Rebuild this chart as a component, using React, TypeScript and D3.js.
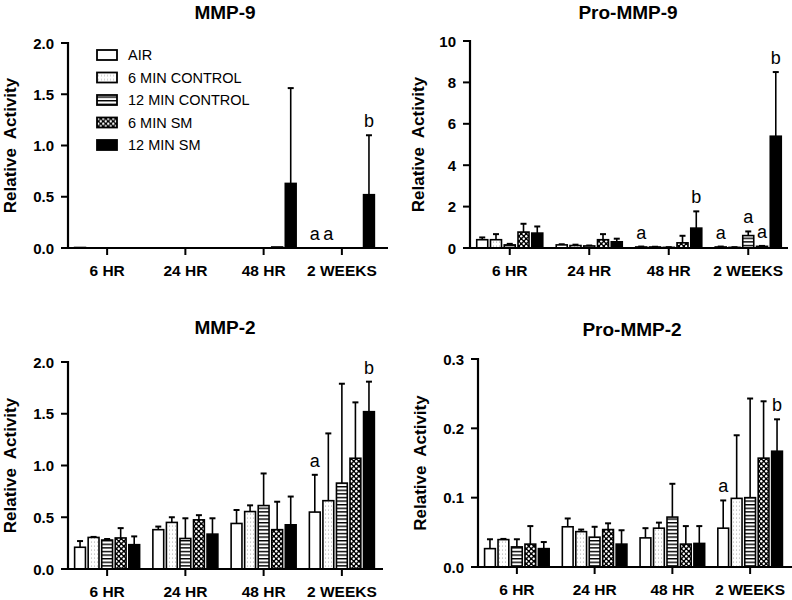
import React from "react";
import * as d3 from "d3";

const groups = ["6 HR", "24 HR", "48 HR", "2 WEEKS"];
const seriesNames = ["AIR", "6 MIN CONTROL", "12 MIN CONTROL", "6 MIN SM", "12 MIN SM"];

// MMP-9 (means per series, across groups) and SD
const mmp9Mean = [
  [0.005, 0, 0, 0],
  [0, 0, 0, 0],
  [0, 0, 0, 0],
  [0, 0, 0.01, 0],
  [0, 0, 0.63, 0.52],
];
const mmp9Err = [
  [0, 0, 0, 0],
  [0, 0, 0, 0],
  [0, 0, 0, 0],
  [0, 0, 0, 0],
  [0, 0, 0.93, 0.58],
];
const mmp9Ticks = [0, 0.5, 1.0, 1.5, 2.0];
const mmp9Letters = [
  { g: 3, s: 0, t: "a" },
  { g: 3, s: 1, t: "a" },
  { g: 3, s: 4, t: "b" },
];

// Pro-MMP-9
const proMmp9Mean = [
  [0.4, 0.15, 0.05, 0.05],
  [0.4, 0.12, 0.05, 0.03],
  [0.15, 0.1, 0.03, 0.6],
  [0.77, 0.4, 0.25, 0.08],
  [0.72, 0.3, 0.96, 5.4],
];
const proMmp9Err = [
  [0.11, 0.03, 0.02, 0.02],
  [0.27, 0.04, 0.01, 0.01],
  [0.05, 0.02, 0.01, 0.2],
  [0.4, 0.27, 0.34, 0.02],
  [0.32, 0.15, 0.81, 3.1],
];
const proMmp9Ticks = [0, 2, 4, 6, 8, 10];
const proMmp9Letters = [
  { g: 2, s: 0, t: "a" },
  { g: 2, s: 4, t: "b" },
  { g: 3, s: 0, t: "a" },
  { g: 3, s: 2, t: "a" },
  { g: 3, s: 3, t: "a" },
  { g: 3, s: 4, t: "b" },
];

// MMP-2
const mmp2Mean = [
  [0.21, 0.38, 0.44, 0.55],
  [0.305, 0.45, 0.555, 0.66],
  [0.28, 0.295, 0.613, 0.83],
  [0.3, 0.475, 0.38, 1.07],
  [0.235, 0.337, 0.427, 1.52],
];
const mmp2Err = [
  [0.06, 0.03, 0.13, 0.36],
  [0.005, 0.05, 0.06, 0.65],
  [0.01, 0.195, 0.31, 0.96],
  [0.095, 0.045, 0.27, 0.54],
  [0.08, 0.153, 0.273, 0.29],
];
const mmp2Ticks = [0, 0.5, 1.0, 1.5, 2.0];
const mmp2Letters = [
  { g: 3, s: 0, t: "a" },
  { g: 3, s: 4, t: "b" },
];

// Pro-MMP-2
const proMmp2Mean = [
  [0.0265, 0.058, 0.042, 0.056],
  [0.0395, 0.051, 0.056, 0.099],
  [0.029, 0.043, 0.072, 0.1],
  [0.033, 0.054, 0.033, 0.157],
  [0.0265, 0.033, 0.034, 0.167],
];
const proMmp2Err = [
  [0.0135, 0.012, 0.014, 0.04],
  [0.001, 0.003, 0.008, 0.091],
  [0.011, 0.015, 0.048, 0.143],
  [0.026, 0.009, 0.026, 0.082],
  [0.0095, 0.02, 0.025, 0.046],
];
const proMmp2Ticks = [0, 0.1, 0.2, 0.3];
const proMmp2Letters = [
  { g: 3, s: 0, t: "a" },
  { g: 3, s: 4, t: "b" },
];

const FONT = "'Liberation Sans', Arial, Helvetica, sans-serif";
const fills = ["#ffffff", "url(#p6mc)", "url(#p12mc)", "url(#p6sm)", "#000000"];

type PanelProps = {
  title: string;
  mean: number[][];
  err: number[][];
  ticks: number[];
  fmt: string;
  letters: { g: number; s: number; t: string }[];
  x0: number;
  x1: number;
  axisEnd: number;
  yTop: number;
  yBot: number;
  titleX: number;
  titleY: number;
  labelX: number;
  legend?: boolean;
};

function Panel(p: PanelProps) {
  const yMax = p.ticks[p.ticks.length - 1];
  const y = d3.scaleLinear().domain([0, yMax]).range([p.yBot, p.yTop]);
  const xg = d3.scaleBand<string>().domain(groups).range([p.x0, p.x1]).paddingInner(0.1).paddingOuter(0.05);
  const xs = d3.scaleBand<string>().domain(seriesNames).range([0, xg.bandwidth()]).padding(0.2);
  const f = d3.format(p.fmt);
  const barX = (gi: number, si: number) => (xg(groups[gi]) as number) + (xs(seriesNames[si]) as number);
  const bw = xs.bandwidth();
  const capW = 6;
  return (
    <g>
      <text x={p.titleX} y={p.titleY} textAnchor="middle" fontFamily={FONT} fontWeight="bold" fontSize={19}>
        {p.title}
      </text>
      <text
        transform={`translate(${p.labelX},${(p.yTop + p.yBot) / 2}) rotate(-90)`}
        textAnchor="middle"
        dominantBaseline="central"
        fontFamily={FONT}
        fontWeight="bold"
        fontSize={17}
        style={{ whiteSpace: "pre" }}
      >
        {"Relative  Activity"}
      </text>
      {/* bars */}
      {p.mean.map((row, si) =>
        row.map((v, gi) => {
          const bx = barX(gi, si);
          const top = y(v);
          const e = p.err[si][gi];
          const et = y(v + e);
          return (
            <g key={`${si}-${gi}`}>
              {e > 0 && (
                <g>
                  <line x1={bx + bw / 2} x2={bx + bw / 2} y1={top} y2={et} stroke="#000" strokeWidth={1.6} />
                  <line x1={bx + bw / 2 - capW / 2} x2={bx + bw / 2 + capW / 2} y1={et} y2={et} stroke="#000" strokeWidth={2} />
                </g>
              )}
              {v > 0 && (
                <rect
                  x={bx}
                  y={top}
                  width={bw}
                  height={p.yBot - top}
                  fill={fills[si]}
                  stroke="#000"
                  strokeWidth={1.6}
                />
              )}
            </g>
          );
        })
      )}
      {/* letters */}
      {p.letters.map((l, i) => {
        const v = p.mean[l.s][l.g] + p.err[l.s][l.g];
        return (
          <text
            key={i}
            x={barX(l.g, l.s) + bw / 2}
            y={y(v) - 8}
            textAnchor="middle"
            fontFamily={FONT}
            fontSize={18}
            fill="#000"
          >
            {l.t}
          </text>
        );
      })}
      {/* axes */}
      <line x1={p.x0} x2={p.x0} y1={p.yTop - 1} y2={p.yBot + 1} stroke="#000" strokeWidth={2.2} />
      <line x1={p.x0} x2={p.axisEnd} y1={p.yBot} y2={p.yBot} stroke="#000" strokeWidth={2.2} />
      {p.ticks.map((t) => (
        <g key={t}>
          <line x1={p.x0 - 7} x2={p.x0} y1={y(t)} y2={y(t)} stroke="#000" strokeWidth={2} />
          <text
            x={p.x0 - 14}
            y={y(t)}
            textAnchor="end"
            dominantBaseline="central"
            fontFamily={FONT}
            fontWeight="bold"
            fontSize={15}
          >
            {f(t)}
          </text>
        </g>
      ))}
      {groups.map((g) => {
        const cx = (xg(g) as number) + xg.bandwidth() / 2;
        return (
          <g key={g}>
            <line x1={cx} x2={cx} y1={p.yBot} y2={p.yBot + 7} stroke="#000" strokeWidth={2} />
            <text x={cx} y={p.yBot + 28} textAnchor="middle" fontFamily={FONT} fontWeight="bold" fontSize={15.5}>
              {g}
            </text>
          </g>
        );
      })}
      {p.legend &&
        seriesNames.map((s, i) => (
          <g key={s} transform={`translate(97,${55 + i * 22.5})`}>
            <rect x={0} y={-5} width={20} height={10} fill={fills[i]} stroke="#000" strokeWidth={1.8} />
            <text x={31} y={0} dominantBaseline="central" fontFamily={FONT} fontSize={14.5}>
              {s}
            </text>
          </g>
        ))}
    </g>
  );
}

export default function App() {
  return (
    <svg
      width={792}
      height={600}
      viewBox="0 0 792 600"
      style={{ position: "absolute", left: 0, top: 0, background: "#fff" }}
    >
      <defs>
        <pattern id="p6mc" patternUnits="userSpaceOnUse" width={3} height={4}>
          <rect width={3} height={4} fill="#fff" />
          <circle cx={1.5} cy={2} r={0.55} fill="#999" />
        </pattern>
        <pattern id="p12mc" patternUnits="userSpaceOnUse" width={4} height={3.6}>
          <rect width={4} height={3.6} fill="#fff" />
          <rect x={0} y={0} width={4} height={1.4} fill="#000" />
        </pattern>
        <pattern id="p6sm" patternUnits="userSpaceOnUse" width={5} height={5}>
          <rect width={5} height={5} fill="#000" />
          <circle cx={1.25} cy={1.25} r={1.2} fill="#fff" />
          <circle cx={3.75} cy={3.75} r={1.2} fill="#fff" />
        </pattern>
      </defs>
      <rect width={792} height={600} fill="#fff" />
      <Panel
        title="MMP-9"
        mean={mmp9Mean}
        err={mmp9Err}
        ticks={mmp9Ticks}
        fmt=".1f"
        letters={mmp9Letters}
        x0={68}
        x1={381}
        axisEnd={388}
        yTop={43}
        yBot={248}
        titleX={225}
        titleY={19}
        labelX={10}
        legend
      />
      <Panel
        title="Pro-MMP-9"
        mean={proMmp9Mean}
        err={proMmp9Err}
        ticks={proMmp9Ticks}
        fmt="d"
        letters={proMmp9Letters}
        x0={470}
        x1={788}
        axisEnd={788}
        yTop={41}
        yBot={248}
        titleX={628}
        titleY={19}
        labelX={418}
      />
      <Panel
        title="MMP-2"
        mean={mmp2Mean}
        err={mmp2Err}
        ticks={mmp2Ticks}
        fmt=".1f"
        letters={mmp2Letters}
        x0={68}
        x1={381}
        axisEnd={383}
        yTop={362}
        yBot={569}
        titleX={225}
        titleY={334}
        labelX={10}
      />
      <Panel
        title="Pro-MMP-2"
        mean={proMmp2Mean}
        err={proMmp2Err}
        ticks={proMmp2Ticks}
        fmt=".1f"
        letters={proMmp2Letters}
        x0={478}
        x1={789}
        axisEnd={792}
        yTop={359}
        yBot={567}
        titleX={632}
        titleY={336}
        labelX={420}
      />
    </svg>
  );
}
